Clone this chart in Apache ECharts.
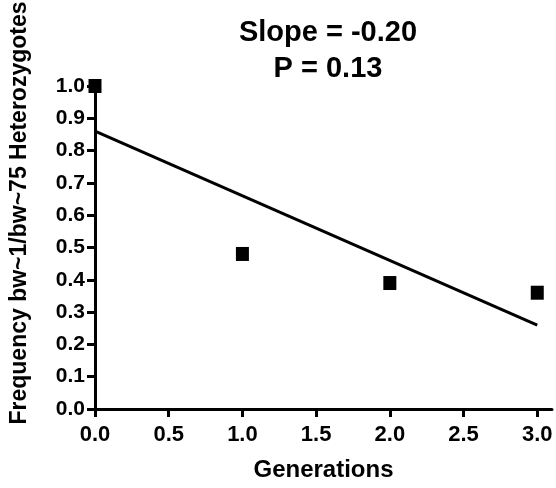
<!doctype html>
<html lang="en">
<head>
    <meta charset="utf-8">
    <script src="https://cdn.jsdelivr.net/npm/echarts@6/dist/echarts.min.js"></script>
    <title>Heterozygote frequency</title>
    <style>
        html, body { margin: 0; padding: 0; background: #fff; }
        #chart { width: 556px; height: 488px; }
    </style>
</head>
<body>
<div id="chart"></div>

<script type="text/javascript">
    // observed points
    const generations = [0, 1, 2, 3];
    const frequency = [1.0, 0.48, 0.39, 0.36];

    // fitted line, ends
    const fitX = [0, 3];
    const fitY = [0.86, 0.26];

    const xTicks = [0, 0.5, 1.0, 1.5, 2.0, 2.5, 3.0];
    const yTicks = [0, 0.1, 0.2, 0.3, 0.4, 0.5, 0.6, 0.7, 0.8, 0.9, 1.0];

    const font = 'Liberation Sans, Arial, sans-serif';

    let chart = echarts.init(document.getElementById('chart'));

    let axisLine = {lineStyle: {color: '#000', width: 3}};
    let axisTick = {inside: false, length: 8, lineStyle: {color: '#000', width: 3}};
    let labelStyle = {color: '#000', fontFamily: font, fontWeight: 'bold'};

    let option = {
        animation: false,
        title: {
            text: 'Slope = -0.20\nP = 0.13',
            left: 323,
            top: 10,
            textAlign: 'center',
            textStyle: {fontFamily: font, fontWeight: 'bold', fontSize: 29, lineHeight: 36, color: '#000'}
        },
        grid: {left: 95, right: 4, top: 86, bottom: 79, containLabel: false},
        xAxis: {
            type: 'value',
            min: 0,
            max: 3.1,
            interval: 0.5,
            name: 'Generations',
            nameLocation: 'middle',
            nameGap: 49,
            nameTextStyle: {fontFamily: font, fontWeight: 'bold', fontSize: 24, color: '#000', verticalAlign: 'top'},
            axisLine: axisLine,
            axisTick: Object.assign({customValues: xTicks}, axisTick),
            splitLine: {show: false},
            axisLabel: Object.assign({
                customValues: xTicks,
                margin: 15,
                fontSize: 22,
                formatter: v => v.toFixed(1)
            }, labelStyle)
        },
        yAxis: {
            type: 'value',
            min: 0,
            max: 1,
            interval: 0.1,
            axisLine: axisLine,
            axisTick: Object.assign({customValues: yTicks}, axisTick),
            splitLine: {show: false},
            axisLabel: Object.assign({
                customValues: yTicks,
                margin: 10,
                fontSize: 21,
                formatter: v => v.toFixed(1)
            }, labelStyle)
        },
        graphic: [{
            type: 'text',
            x: 20,
            y: 213,
            rotation: Math.PI / 2,
            style: {
                text: 'Frequency bw~1/bw~75 Heterozygotes',
                font: 'bold 23px ' + font,
                fill: '#000',
                align: 'center',
                verticalAlign: 'middle'
            }
        }],
        series: [
            {
                type: 'line',
                data: fitX.map((x, i) => [x, fitY[i]]),
                showSymbol: false,
                lineStyle: {color: '#000', width: 3},
                z: 2
            },
            {
                type: 'scatter',
                data: generations.map((x, i) => [x, frequency[i]]),
                symbol: 'rect',
                symbolSize: [13, 14],
                itemStyle: {color: '#000', opacity: 1},
                clip: false,
                z: 3
            }
        ]
    };

    chart.setOption(option);
</script>
</body>
</html>
